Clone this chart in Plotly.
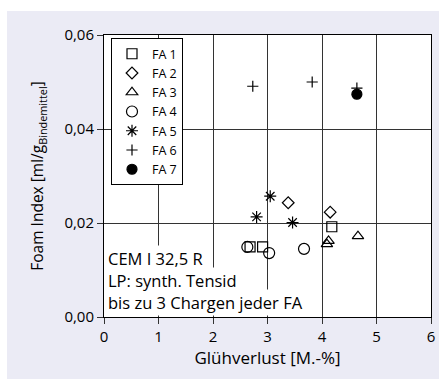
import plotly.graph_objects as go

# Data
fa1_x = [4.18, 2.68, 2.91]
fa1_y = [0.0192, 0.0149, 0.0149]
fa2_x = [3.38, 4.15]
fa2_y = [0.0243, 0.0223]
fa3_x = [4.09, 4.12, 4.66]
fa3_y = [0.0155, 0.0162, 0.0172]
fa4_x = [2.63, 3.03, 3.67]
fa4_y = [0.0149, 0.0136, 0.0145]
fa5_x = [3.05, 2.80, 3.46]
fa5_y = [0.0257, 0.0213, 0.0201]
fa6_x = [2.73, 3.82, 4.64]
fa6_y = [0.0491, 0.0500, 0.0487]
fa7_x = [4.64]
fa7_y = [0.0474]

series = [
    ("FA 1", fa1_x, fa1_y, "square-open", 10),
    ("FA 2", fa2_x, fa2_y, "diamond-open", 9),
    ("FA 3", fa3_x, fa3_y, "triangle-up-open", 10),
    ("FA 4", fa4_x, fa4_y, "circle-open", 11),
    ("FA 5", fa5_x, fa5_y, "asterisk-open", 10),
    ("FA 6", fa6_x, fa6_y, "cross-thin-open", 8),
    ("FA 7", fa7_x, fa7_y, "circle", 10),
]

note_lines = ["CEM I 32,5 R", "LP: synth. Tensid", "bis zu 3 Chargen jeder FA"]

FONT = "Open Sans"

fig = go.Figure()
for name, xs, ys, sym, sz in series:
    fig.add_trace(go.Scatter(
        x=xs, y=ys, mode="markers", name=name,
        marker=dict(symbol=sym, size=sz, color="black",
                    line=dict(color="black", width=1.2)),
    ))

# lavender panel behind the chart, white plot area
W, H = 327.0, 282.0
fig.add_shape(type="rect", xref="paper", yref="paper",
              x0=(7 - 104) / W, x1=(439 - 104) / W,
              y0=(317 - 379) / H, y1=(317 - 11) / H,
              fillcolor="#EBEBF5", line=dict(width=0), layer="below")
fig.add_shape(type="rect", xref="paper", yref="paper",
              x0=0, x1=1, y0=0, y1=1,
              fillcolor="white", line=dict(width=0), layer="below")

for i, line in enumerate(reversed(note_lines)):
    fig.add_annotation(
        text=line, xref="paper", yref="paper", x=0, y=0,
        xanchor="left", yanchor="bottom", showarrow=False,
        xshift=2, yshift=1 + i * 22, align="left",
        bgcolor="white", borderpad=1,
        font=dict(family=FONT, size=16.5, color="black"),
    )

axis_common = dict(
    showline=True, linecolor="black", linewidth=1, mirror=True,
    showgrid=True, gridcolor="#333333", gridwidth=1,
    ticks="outside", ticklen=6, tickcolor="#333333",
    zeroline=False, automargin=False,
    tickfont=dict(family=FONT, size=15, color="black"),
)

fig.update_xaxes(range=[0, 6], dtick=1, tick0=0,
                 title=dict(text="Glühverlust [M.-%]",
                            font=dict(family=FONT, size=17, color="black"),
                            standoff=6),
                 **axis_common)
fig.update_yaxes(range=[0, 0.06], dtick=0.02, tick0=0, tickformat=".2f",
                 title=dict(text="Foam Index [ml/g<sub>Bindemittel</sub>]",
                            font=dict(family=FONT, size=15.5, color="black"),
                            standoff=16),
                 **axis_common)

fig.update_layout(
    width=439, height=387,
    margin=dict(l=104, r=8, t=35, b=70),
    paper_bgcolor="white", plot_bgcolor="white",
    separators=",.",
    font=dict(family=FONT, size=15, color="black"),
    legend=dict(x=0.0214, y=0.989, xanchor="left", yanchor="top",
                bgcolor="white", bordercolor="black", borderwidth=1,
                font=dict(family=FONT, size=12.5, color="black"),
                itemwidth=30, tracegroupgap=0),
    showlegend=True,
)

fig.write_html("out.html",
               config={"displayModeBar": False},
               post_script="document.body.style.margin='0';document.body.style.overflow='hidden';")
